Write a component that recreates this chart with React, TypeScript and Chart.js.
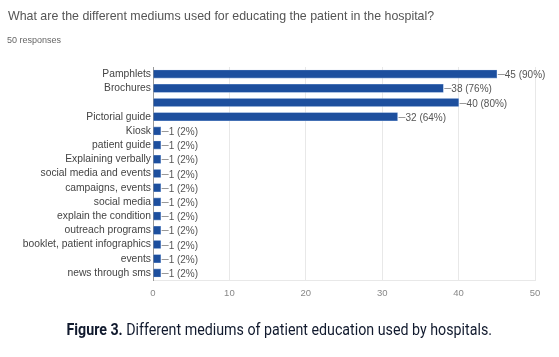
import React, { useEffect, useRef } from "react";
import { Chart, registerables } from "chart.js";
Chart.register(...registerables);

const categories = [
  "Pamphlets",
  "Brochures",
  "",
  "Pictorial guide",
  "Kiosk",
  "patient guide",
  "Explaining verbally",
  "social media and events",
  "campaigns, events",
  "social media",
  "explain the condition",
  "outreach programs",
  "booklet, patient infographics",
  "events",
  "news through sms",
];
const counts = [45, 38, 40, 32, 1, 1, 1, 1, 1, 1, 1, 1, 1, 1, 1];
const percents = [90, 76, 80, 64, 2, 2, 2, 2, 2, 2, 2, 2, 2, 2, 2];
const xTicks = [0, 10, 20, 30, 40, 50];

const titleText = "What are the different mediums used for educating the patient in the hospital?";
const subtitleText = "50 responses";
const captionBold = "Figure 3.";
const captionText = " Different mediums of patient education used by hospitals.";

const labelPlugin = {
  id: "barLabels",
  afterDatasetsDraw(chart: any) {
    const ctx = chart.ctx;
    const meta = chart.getDatasetMeta(0);
    ctx.save();
    ctx.font = "10px 'Liberation Sans', Arial, sans-serif";
    ctx.textBaseline = "middle";
    ctx.textAlign = "left";
    meta.data.forEach((bar: any, i: number) => {
      const x = bar.x;
      const y = Math.round(bar.y);
      ctx.strokeStyle = "#999";
      ctx.lineWidth = 1;
      ctx.beginPath();
      ctx.moveTo(x + 1, y + 0.5);
      ctx.lineTo(x + 8, y + 0.5);
      ctx.stroke();
      ctx.fillStyle = "#555";
      ctx.fillText(`${counts[i]} (${percents[i]}%)`, x + 8, y + 1);
    });
    ctx.restore();
  },
};

export default function App() {
  const ref = useRef<HTMLCanvasElement | null>(null);
  useEffect(() => {
    if (!ref.current) return;
    const chart = new Chart(ref.current, {
      type: "bar",
      data: {
        labels: categories,
        datasets: [
          {
            data: counts,
            backgroundColor: "#1d4f9e",
            borderColor: "#6f94cc",
            borderWidth: 0.6,
            barThickness: 8,
          },
        ],
      },
      options: {
        indexAxis: "y",
        animation: false,
        responsive: false,
        maintainAspectRatio: false,
        layout: { padding: { top: 67, right: 24, bottom: 57, left: 0 } },
        plugins: { legend: { display: false }, tooltip: { enabled: false } },
        scales: {
          x: {
            min: 0,
            max: 50,
            afterBuildTicks: (axis: any) => {
              axis.ticks = xTicks.map((v) => ({ value: v }));
            },
            afterFit: (axis: any) => {
              axis.height = 20;
            },
            grid: { color: "#e8e8e8", drawTicks: false },
            border: { color: "#e8e8e8" },
            ticks: {
              padding: 8,
              color: "#888",
              font: { size: 9.5, family: "'Liberation Sans', Arial, sans-serif" },
            },
          },
          y: {
            afterFit: (axis: any) => {
              axis.width = 153;
            },
            grid: { display: false, drawTicks: false },
            border: { color: "#999" },
            ticks: {
              padding: 2,
              autoSkip: false,
              color: "#444",
              font: { size: 10.3, family: "'Liberation Sans', Arial, sans-serif" },
            },
          },
        },
      },
      plugins: [labelPlugin],
    });
    return () => chart.destroy();
  }, []);

  return (
    <div style={{ position: "fixed", left: 0, top: 0, width: 559, height: 357, background: "#fff", overflow: "hidden" }}>
      <canvas ref={ref} width={559} height={357} style={{ position: "absolute", left: 0, top: 0, width: 559, height: 357 }} />
      <div
        style={{
          position: "absolute",
          left: 8,
          top: 9,
          fontFamily: "'Liberation Sans', Arial, sans-serif",
          fontSize: 12.4,
          color: "#555",
          whiteSpace: "nowrap",
        }}
      >
        {titleText}
      </div>
      <div
        style={{
          position: "absolute",
          left: 7,
          top: 35,
          fontFamily: "'Liberation Sans', Arial, sans-serif",
          fontSize: 9,
          color: "#666",
          whiteSpace: "nowrap",
        }}
      >
        {subtitleText}
      </div>
      <div
        style={{
          position: "absolute",
          left: 0,
          width: 559,
          top: 320,
          textAlign: "center",
          fontFamily: "Roboto, 'Liberation Sans', sans-serif",
          fontSize: 16,
          color: "#111a2e",
          whiteSpace: "nowrap",
          transform: "scaleX(0.89)",
          transformOrigin: "277px 0",
        }}
      >
        <b>{captionBold}</b>
        {captionText}
      </div>
    </div>
  );
}
